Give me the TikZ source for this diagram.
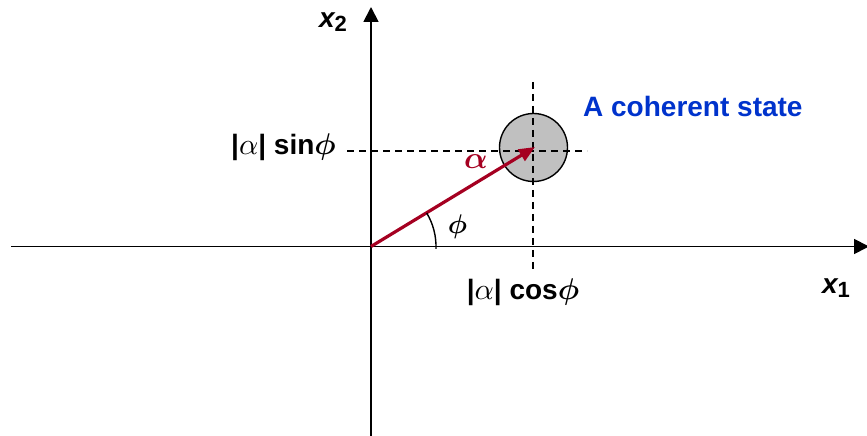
\documentclass[tikz,border=0pt]{standalone}
\usepackage{amsmath}
\usepackage{fontspec}
\setmainfont{Liberation Sans}
\DeclareFontFamily{OML}{cmm}{\skewchar\font127}
\DeclareFontShape{OML}{cmm}{m}{it}{<->cmmi10}{}
\DeclareFontShape{OML}{cmm}{b}{it}{<->cmmib10}{}
\usetikzlibrary{arrows.meta,calc}
\definecolor{vecred}{HTML}{A50021}
\definecolor{labblue}{HTML}{0033CC}
\definecolor{blobgray}{HTML}{C0C0C0}
\newcommand\galpha[1][30]{{\fontsize{#1}{#1}\selectfont$\alpha$}}
\newcommand\gbalpha[1][30]{{\fontsize{#1}{#1}\selectfont$\boldsymbol{\alpha}$}}
\newcommand\gphi[1][30]{{\fontsize{#1}{#1}\selectfont$\boldsymbol{\phi}$}}
\begin{document}
\begin{tikzpicture}[x=1pt,y=1pt,
  axis/.style={line width=1.8pt,-{Triangle[length=15pt,width=15pt]}},
  guide/.style={line width=1.4pt,dash pattern=on 7pt off 5pt},
  lab/.style={font=\fontsize{28}{30}\selectfont\bfseries,inner sep=0pt},
  vec/.style={line width=3.2pt,draw=vecred,-{Triangle[length=16pt,width=13pt]}}]
\useasboundingbox (0,0) rectangle (867,436);
\coordinate (O) at (371,189.5);
\coordinate (xl) at (11,189.5);
\coordinate (xr) at (869,189.5);
\coordinate (yb) at (371,0);
\coordinate (yt) at (371,429);
\coordinate (hl) at (347,285);
\coordinate (hr) at (587,285);
\coordinate (vt) at (533,354);
\coordinate (vb) at (533,163);
\node[circle,draw,line width=1.4pt,fill=blobgray,minimum size=68pt,inner sep=0pt] (blob) at (533.5,288.5) {};
\coordinate (tip) at (535,289);
\draw[guide] (hl) -- (hr);
\draw[guide] (vt) -- (vb);
\draw[axis] (xl) -- (xr);
\draw[axis] (yb) -- (yt);
\draw[vec] (O) -- (tip);
\draw[line width=1.4pt] ($(O)+(-2:65)$) arc[start angle=-2,end angle=31,radius=65];
\node[lab,anchor=base east] (sinlab) at (336,281) {|\galpha| sin\gphi};
\node[lab,anchor=base] (coslab) at (523,136) {|\galpha| cos\gphi};
\node[lab,text=vecred] (alab) at (476,274.5) {\gbalpha[31]};
\node[lab] (philab) at (457.5,209.5) {\gphi[27]};
\node[lab,anchor=base west,text=labblue] (cohlab) at (583,319) {A coherent state};
\node[lab] (x2lab) at (333,414) {\itshape x\raisebox{-0.3ex}{\upshape\fontsize{22}{24}\selectfont 2}};
\node[lab] (x1lab) at (836,148) {\itshape x\raisebox{-0.3ex}{\upshape\fontsize{22}{24}\selectfont 1}};
\end{tikzpicture}
\end{document}
